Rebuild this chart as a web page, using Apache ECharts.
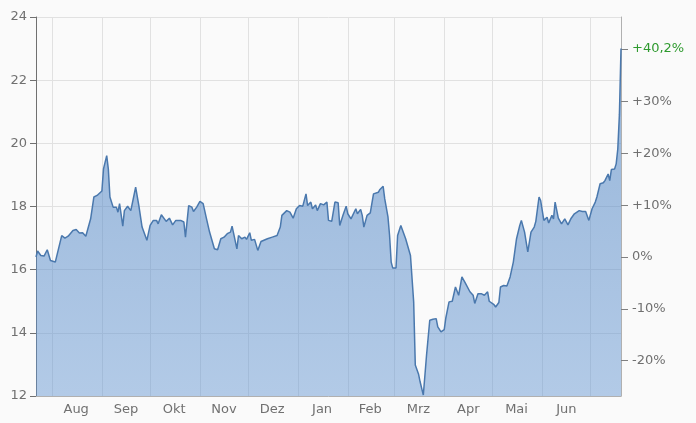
<!DOCTYPE html>
<html><head><meta charset="utf-8">
<script src="https://cdn.jsdelivr.net/npm/echarts@6/dist/echarts.min.js"></script>
<style>html,body{margin:0;padding:0;background:#fafafa}#c{width:696px;height:423px}</style>
</head><body><div id="c"></div>
<script>
const dates = [
'2019-07-22','2019-07-23','2019-07-25','2019-07-27','2019-07-29','2019-07-31',
'2019-08-01','2019-08-03','2019-08-05','2019-08-07','2019-08-09','2019-08-11','2019-08-12','2019-08-14','2019-08-16','2019-08-18','2019-08-20','2019-08-22','2019-08-25','2019-08-27','2019-08-29','2019-08-30',
'2019-09-01','2019-09-02','2019-09-04','2019-09-05','2019-09-06','2019-09-08','2019-09-10','2019-09-11','2019-09-12','2019-09-14','2019-09-15','2019-09-17','2019-09-19','2019-09-20','2019-09-22','2019-09-23','2019-09-24','2019-09-26','2019-09-29',
'2019-10-01','2019-10-03','2019-10-05','2019-10-06','2019-10-08','2019-10-09','2019-10-11','2019-10-13','2019-10-15','2019-10-17','2019-10-20','2019-10-22','2019-10-23','2019-10-25','2019-10-27','2019-10-28','2019-10-30',
'2019-11-01','2019-11-03','2019-11-05','2019-11-07','2019-11-10','2019-11-12','2019-11-14','2019-11-16','2019-11-18','2019-11-20','2019-11-21','2019-11-22','2019-11-24','2019-11-25','2019-11-27','2019-11-29','2019-11-30',
'2019-12-02','2019-12-03','2019-12-05','2019-12-07','2019-12-09','2019-12-13','2019-12-16','2019-12-19','2019-12-21','2019-12-22','2019-12-25','2019-12-27','2019-12-29','2019-12-31',
'2020-01-02','2020-01-04','2020-01-06','2020-01-07','2020-01-09','2020-01-10','2020-01-12','2020-01-13','2020-01-15','2020-01-17','2020-01-19','2020-01-20','2020-01-22','2020-01-24','2020-01-26','2020-01-27','2020-01-29','2020-01-31',
'2020-02-01','2020-02-03','2020-02-06','2020-02-07','2020-02-09','2020-02-10','2020-02-11','2020-02-13','2020-02-15','2020-02-17','2020-02-20','2020-02-21','2020-02-23','2020-02-24','2020-02-26','2020-02-27','2020-02-28','2020-02-29',
'2020-03-02','2020-03-03','2020-03-05','2020-03-06','2020-03-08','2020-03-09','2020-03-11','2020-03-13','2020-03-14','2020-03-16','2020-03-17','2020-03-19','2020-03-21','2020-03-23','2020-03-25','2020-03-27','2020-03-28','2020-03-30',
'2020-04-01','2020-04-02','2020-04-04','2020-04-05','2020-04-06','2020-04-08','2020-04-10','2020-04-12','2020-04-14','2020-04-15','2020-04-17','2020-04-19','2020-04-20','2020-04-22','2020-04-24','2020-04-26','2020-04-28','2020-04-29',
'2020-05-02','2020-05-03','2020-05-05','2020-05-06','2020-05-08','2020-05-10','2020-05-12','2020-05-14','2020-05-16','2020-05-18','2020-05-19','2020-05-21','2020-05-22','2020-05-23','2020-05-25','2020-05-27','2020-05-28','2020-05-30','2020-05-31',
'2020-06-02','2020-06-04','2020-06-05','2020-06-07','2020-06-08','2020-06-09','2020-06-11','2020-06-13','2020-06-15','2020-06-17','2020-06-19','2020-06-21','2020-06-24','2020-06-26','2020-06-28','2020-06-30',
'2020-07-02','2020-07-04','2020-07-05','2020-07-07','2020-07-09','2020-07-10','2020-07-12','2020-07-13','2020-07-14','2020-07-16','2020-07-17','2020-07-18','2020-07-19','2020-07-20'
];
const prices = [
16.40,16.59,16.45,16.43,16.63,16.29,
16.33,16.24,16.66,17.08,17.00,17.06,17.01,17.24,17.27,17.16,17.17,17.06,17.61,18.30,18.35,18.37,
18.49,19.19,19.61,19.19,18.30,17.98,17.98,17.82,18.09,17.38,17.87,18.01,17.87,17.90,18.61,18.61,18.03,17.35,16.93,
17.40,17.56,17.56,17.45,17.74,17.72,17.53,17.63,17.42,17.56,17.56,17.51,17.03,18.03,17.98,17.84,17.98,
18.16,18.09,17.63,17.19,16.66,16.63,16.98,17.03,17.14,17.19,17.38,17.14,16.66,17.08,16.98,17.03,16.96,
17.17,16.93,16.96,16.61,16.89,16.98,17.03,17.08,17.35,17.72,17.87,17.82,17.63,17.93,
18.03,18.01,18.40,18.03,18.14,17.93,18.05,17.87,18.09,18.05,18.14,17.56,17.53,18.14,18.12,17.40,17.72,18.01,
17.77,17.61,17.93,17.77,17.91,17.72,17.35,17.72,17.80,18.40,18.45,18.54,18.64,18.24,17.67,17.08,16.24,16.05,
16.05,17.08,17.40,17.38,16.98,16.93,16.45,14.98,12.98,12.70,12.45,12.03,13.29,14.40,14.43,14.45,14.19,14.03,
14.10,14.47,14.98,15.03,15.00,15.45,15.19,15.77,15.59,15.59,15.30,15.19,14.93,15.24,15.24,15.19,15.30,15.00,
14.89,14.82,14.96,15.45,15.50,15.48,15.77,16.24,16.98,17.40,17.56,17.19,17.14,16.56,17.19,17.35,17.53,18.30,18.19,
17.56,17.66,17.48,17.72,17.61,18.14,17.63,17.45,17.61,17.42,17.63,17.77,17.87,17.84,17.84,17.56,
17.93,18.14,18.30,18.72,18.75,18.82,19.03,18.82,19.17,19.19,19.35,19.82,20.90,23.00
];
const monthStarts = ['2019-08-01','2019-09-01','2019-10-01','2019-11-01','2019-12-01','2020-01-01','2020-02-01','2020-03-01','2020-04-01','2020-05-01','2020-06-01','2020-07-01'];
const monthLabelDates = ['2019-08-16','2019-09-16','2019-10-16','2019-11-16','2019-12-16','2020-01-16','2020-02-15','2020-03-16','2020-04-16','2020-05-16','2020-06-16'];
const monthNames = ['Jan','Feb','Mrz','Apr','Mai','Jun','Jul','Aug','Sep','Okt','Nov','Dez'];
const pctTicks = [-20,-10,0,10,20,30];
const xMin = '2019-07-22', xMax = '2020-07-20';
const yMin = 12, yMax = 24, yStep = 2;

function ts(s){ const p = s.split('-').map(Number); return new Date(p[0], p[1]-1, p[2]).getTime(); }
const base = prices[0];
const lastPct = (prices[prices.length-1]/base - 1)*100;
const lastPctR = Math.round(lastPct*10)/10;
const font = 'DejaVu Sans';

const chart = echarts.init(document.getElementById('c'), null, {renderer:'canvas'});
chart.setOption({
  backgroundColor:'#fafafa',
  animation:false,
  grid:{left:36, right:75, top:17, bottom:27, containLabel:false},
  xAxis:{
    type:'value', min:ts(xMin), max:ts(xMax), scale:true,
    axisLine:{show:true, onZero:false, lineStyle:{color:'#b0b0b0', width:1}},
    axisTick:{show:false, customValues: monthStarts.map(ts)},
    splitLine:{show:true, lineStyle:{color:'#e1e1e1', width:1}},
    axisLabel:{
      customValues: monthLabelDates.map(ts),
      formatter: v => monthNames[new Date(v).getMonth()],
      color:'#707070', fontFamily:font, fontSize:13, margin:7
    }
  },
  yAxis:[{
    type:'value', min:yMin, max:yMax, interval:yStep, position:'left',
    axisLine:{show:true, lineStyle:{color:'#707070', width:1}},
    axisTick:{show:true, length:6, lineStyle:{color:'#707070'}},
    splitLine:{show:true, lineStyle:{color:'#e1e1e1', width:1}},
    axisLabel:{color:'#707070', fontFamily:font, fontSize:13, margin:9}
  },{
    type:'value', position:'right',
    min:(yMin/base-1)*100, max:(yMax/base-1)*100,
    axisLine:{show:true, lineStyle:{color:'#b0b0b0', width:1}},
    axisTick:{show:true, length:7, lineStyle:{color:'#808080'}, customValues: pctTicks.concat([lastPctR])},
    splitLine:{show:false},
    axisLabel:{
      customValues: pctTicks.concat([lastPctR]),
      color:'#707070', fontFamily:font, fontSize:13, margin:11,
      formatter: v => {
        if (Math.abs(v - lastPctR) < 1e-6) return '{g|+' + v.toFixed(1).replace('.', ',') + '%}';
        return (v > 0 ? '+' : '') + Math.round(v) + '%';
      },
      rich:{ g:{color:'#2e9a2e', fontFamily:font, fontSize:13} }
    }
  }],
  series:[{
    type:'line', yAxisIndex:0,
    data: dates.map((d,i)=>[ts(d), prices[i]]),
    showSymbol:false, smooth:false,
    lineStyle:{color:'#4a78ad', width:1.5},
    areaStyle:{
      origin:'start', opacity:1,
      color:new echarts.graphic.LinearGradient(0,0,0,1,[
        {offset:0, color:'rgba(70,125,190,0.56)'},
        {offset:1, color:'rgba(100,150,210,0.48)'}
      ])
    }
  }]
});
</script></body></html>
